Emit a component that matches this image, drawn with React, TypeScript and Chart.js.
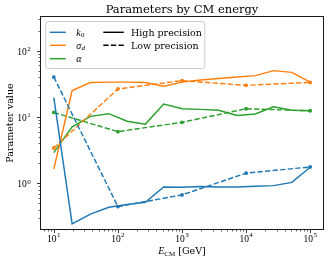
import React, { useEffect, useRef } from 'react';
import { Chart, registerables } from 'chart.js';

Chart.register(...registerables);

// ---- data ----
const highEnergies = [10, 19.31, 37.28, 71.97, 138.9, 268.3, 517.9, 1000, 1931, 3728, 7197, 13895, 26827, 51795, 100000];
const k0High = [19.5, 0.243, 0.343, 0.435, 0.477, 0.517, 0.88, 0.87, 0.89, 0.88, 0.88, 0.9, 0.92, 1.03, 1.74];
const sigmaHigh = [1.63, 25, 33, 33.5, 33.5, 33, 29, 33.5, 36, 38, 40, 42, 50, 47, 33.5];
const alphaHigh = [2.9, 7.1, 10.2, 11.2, 8.6, 7.8, 15.7, 13.3, 13.0, 12.6, 10.5, 11.1, 14.2, 12.6, 12.4];

const lowEnergies = [10, 100, 1000, 10000, 100000];
const k0Low = [40, 0.444, 0.667, 1.42, 1.76];
const sigmaLow = [3.4, 26.4, 35.3, 30, 33.2];
const alphaLow = [11.7, 6.0, 8.3, 13.3, 12.4];

const xTickValues = [10, 100, 1000, 10000, 100000];
const xTickExponents = ['1', '2', '3', '4', '5'];
const yTickValues = [1, 10, 100];
const yTickExponents = ['0', '1', '2'];
const xRange = [6.31, 158500];
const yRange = [0.204, 322];

const titleText = 'Parameters by CM energy';
const yTitleText = 'Parameter value';
const legendPrecision = ['High precision', 'Low precision'];

const BLUE = '#1f77b4';
const ORANGE = '#ff7f0e';
const GREEN = '#2ca02c';
const DASH = [5.3, 2.3];
const MATH = "'Liberation Serif', serif";
const TEXT = "'DejaVu Serif', serif";

function zip(xs: number[], ys: number[]) {
  return xs.map((x, i) => ({ x, y: ys[i] }));
}

function minorTicks(min: number, max: number, majors: number[]) {
  const out: number[] = [];
  for (let d = Math.pow(10, Math.floor(Math.log10(min))); d <= max; d *= 10) {
    for (let m = 2; m <= 9; m++) {
      const v = d * m;
      if (v >= min && v <= max && !majors.includes(v)) out.push(v);
    }
  }
  return out;
}

const decorPlugin = {
  id: 'decor',
  afterDraw(chart: any) {
    const ctx: CanvasRenderingContext2D = chart.ctx;
    const { left, right, top, bottom } = chart.chartArea;
    const xs = chart.scales.x;
    const ys = chart.scales.y;
    ctx.save();

    // frame
    ctx.strokeStyle = '#1a1a1a';
    ctx.lineWidth = 1;
    ctx.strokeRect(left - 0.5, top - 0.5, right - left + 1, bottom - top + 1);

    // ticks
    ctx.strokeStyle = '#222';
    const drawXTick = (v: number, len: number, w: number) => {
      const p = Math.round(xs.getPixelForValue(v)) + 0.5;
      ctx.lineWidth = w;
      ctx.beginPath();
      ctx.moveTo(p, bottom + 0.5);
      ctx.lineTo(p, bottom + 0.5 + len);
      ctx.stroke();
    };
    const drawYTick = (v: number, len: number, w: number) => {
      const p = Math.round(ys.getPixelForValue(v)) + 0.5;
      ctx.lineWidth = w;
      ctx.beginPath();
      ctx.moveTo(left - 0.5, p);
      ctx.lineTo(left - 0.5 - len, p);
      ctx.stroke();
    };
    xTickValues.forEach((v) => drawXTick(v, 3.5, 0.9));
    minorTicks(xRange[0], xRange[1], xTickValues).forEach((v) => drawXTick(v, 2, 0.7));
    yTickValues.forEach((v) => drawYTick(v, 3.5, 0.9));
    minorTicks(yRange[0], yRange[1], yTickValues).forEach((v) => drawYTick(v, 2, 0.7));

    // tick labels
    ctx.fillStyle = '#000';
    ctx.textBaseline = 'alphabetic';
    ctx.textAlign = 'left';
    const baseFont = `9.5px ${MATH}`;
    const expFont = `7px ${MATH}`;
    xTickValues.forEach((v, i) => {
      const p = xs.getPixelForValue(v);
      ctx.font = baseFont;
      const wb = ctx.measureText('10').width;
      ctx.font = expFont;
      const we = ctx.measureText(xTickExponents[i]).width;
      const sx = p - (wb + we + 0.4) / 2;
      ctx.font = baseFont;
      ctx.fillText('10', sx, bottom + 12.5);
      ctx.font = expFont;
      ctx.fillText(xTickExponents[i], sx + wb + 0.4, bottom + 8.4);
    });
    yTickValues.forEach((v, i) => {
      const p = ys.getPixelForValue(v);
      ctx.font = baseFont;
      const wb = ctx.measureText('10').width;
      ctx.font = expFont;
      const we = ctx.measureText(yTickExponents[i]).width;
      const ex = left - 10.3;
      ctx.font = baseFont;
      ctx.fillText('10', ex - we - 0.4 - wb, p + 4);
      ctx.font = expFont;
      ctx.fillText(yTickExponents[i], ex - we, p + 0.3);
    });

    // title
    ctx.font = `11.5px ${TEXT}`;
    ctx.textAlign = 'center';
    ctx.fillText(titleText, (left + right) / 2, top - 3.6);

    // x axis title: E_CM [GeV]
    const parts = [
      { t: 'E', f: `italic 10px ${MATH}`, dy: 0 },
      { t: 'CM', f: `7px ${MATH}`, dy: 1.6 },
      { t: ' [GeV]', f: `9.5px ${TEXT}`, dy: 0 },
    ];
    ctx.textAlign = 'left';
    let total = 0;
    const widths = parts.map((pt) => {
      ctx.font = pt.f;
      const w = ctx.measureText(pt.t).width;
      total += w;
      return w;
    });
    let cx = (left + right) / 2 - total / 2;
    parts.forEach((pt, i) => {
      ctx.font = pt.f;
      ctx.fillText(pt.t, cx, bottom + 25 + pt.dy);
      cx += widths[i];
    });

    // y axis title
    ctx.save();
    ctx.translate(13.3, (top + bottom) / 2);
    ctx.rotate(-Math.PI / 2);
    ctx.font = `9.5px ${TEXT}`;
    ctx.textAlign = 'center';
    ctx.fillText(yTitleText, 0, 0);
    ctx.restore();

    // legend
    const lx = left + 4.3;
    const ly = top + 4;
    const lw = 159;
    const lh = 47;
    ctx.beginPath();
    if ((ctx as any).roundRect) (ctx as any).roundRect(lx + 0.5, ly + 0.5, lw, lh, 2.5);
    else ctx.rect(lx + 0.5, ly + 0.5, lw, lh);
    ctx.fillStyle = 'rgba(255,255,255,0.8)';
    ctx.fill();
    ctx.strokeStyle = '#cccccc';
    ctx.lineWidth = 1;
    ctx.stroke();

    const rows = [ly + 11.3, ly + 24.3, ly + 37.7];
    const colors = [BLUE, ORANGE, GREEN];
    ctx.lineWidth = 1.45;
    rows.forEach((ry, i) => {
      ctx.strokeStyle = colors[i];
      ctx.setLineDash([]);
      ctx.beginPath();
      ctx.moveTo(lx + 4.5, ry);
      ctx.lineTo(lx + 20.5, ry);
      ctx.stroke();
    });
    // math labels
    ctx.fillStyle = '#000';
    const mx = lx + 31;
    const mathLabels = [
      { main: 'k', sub: '0', subItalic: false },
      { main: 'σ', sub: 'd', subItalic: true },
      { main: 'α', sub: '', subItalic: false },
    ];
    mathLabels.forEach((ml, i) => {
      const by = rows[i] + 3.3;
      ctx.font = `italic 10px ${MATH}`;
      ctx.fillText(ml.main, mx, by);
      const w = ctx.measureText(ml.main).width;
      if (ml.sub) {
        ctx.font = `${ml.subItalic ? 'italic ' : ''}7px ${MATH}`;
        ctx.fillText(ml.sub, mx + w + 0.3, by + 1.8);
      }
    });
    // precision handles
    ctx.strokeStyle = '#000';
    [0, 1].forEach((i) => {
      ctx.setLineDash(i === 0 ? [] : DASH);
      ctx.beginPath();
      ctx.moveTo(lx + 58, rows[i]);
      ctx.lineTo(lx + 78.5, rows[i]);
      ctx.stroke();
    });
    ctx.setLineDash([]);
    ctx.font = `9.5px ${TEXT}`;
    legendPrecision.forEach((t, i) => {
      ctx.fillText(t, lx + 85.7, rows[i] + 3.4);
    });

    ctx.restore();
  },
};

export default function App() {
  const canvasRef = useRef<HTMLCanvasElement | null>(null);

  useEffect(() => {
    document.body.style.margin = '0';
    const canvas = canvasRef.current;
    if (!canvas) return;

    const solid = (label: string, ys: number[], color: string) => ({
      label,
      data: zip(highEnergies, ys),
      borderColor: color,
      backgroundColor: color,
      borderWidth: 1.45,
      pointRadius: 0,
      tension: 0,
      fill: false,
    });
    const dashed = (label: string, ys: number[], color: string) => ({
      label,
      data: zip(lowEnergies, ys),
      borderColor: color,
      backgroundColor: color,
      borderWidth: 1.45,
      borderDash: DASH,
      pointRadius: 1.9,
      pointBorderWidth: 0,
      pointBackgroundColor: color,
      tension: 0,
      fill: false,
    });

    const chart = new Chart(canvas, {
      type: 'line',
      data: {
        datasets: [
          solid('k0 high', k0High, BLUE),
          dashed('k0 low', k0Low, BLUE),
          solid('sigma_d high', sigmaHigh, ORANGE),
          dashed('sigma_d low', sigmaLow, ORANGE),
          solid('alpha high', alphaHigh, GREEN),
          dashed('alpha low', alphaLow, GREEN),
        ] as any,
      },
      options: {
        animation: false,
        responsive: false,
        maintainAspectRatio: false,
        devicePixelRatio: 1,
        layout: { padding: { left: 0, right: 9, top: 17, bottom: 0 } },
        plugins: {
          legend: { display: false },
          tooltip: { enabled: false },
          title: { display: false },
        },
        scales: {
          x: {
            type: 'logarithmic',
            min: xRange[0],
            max: xRange[1],
            ticks: { display: false },
            grid: { display: false },
            border: { display: false },
            afterFit: (s: any) => {
              s.height = 34;
            },
          },
          y: {
            type: 'logarithmic',
            min: yRange[0],
            max: yRange[1],
            ticks: { display: false },
            grid: { display: false },
            border: { display: false },
            afterFit: (s: any) => {
              s.width = 41;
            },
          },
        },
      } as any,
      plugins: [decorPlugin],
    });

    return () => chart.destroy();
  }, []);

  return (
    <div style={{ width: 332, height: 263 }}>
      <canvas ref={canvasRef} width={332} height={263} style={{ width: 332, height: 263, display: 'block' }} />
    </div>
  );
}
